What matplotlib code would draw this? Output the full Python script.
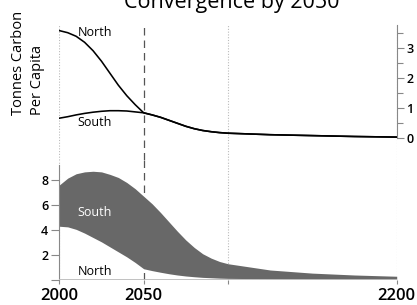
import matplotlib
matplotlib.use("Agg")
import matplotlib.pyplot as plt
import numpy as np

plt.rcParams["font.family"] = ["Open Sans", "DejaVu Sans"]

# ---------------------------------------------------------------------------
# Data
# ---------------------------------------------------------------------------
years = [2000, 2005, 2010, 2015, 2020, 2025, 2030, 2035, 2040, 2045, 2050,
         2055, 2060, 2065, 2070, 2075, 2080, 2085, 2090, 2095, 2100,
         2125, 2150, 2175, 2200]

# tonnes carbon per capita
north_per_capita = [3.57, 3.50, 3.38, 3.18, 2.90, 2.55, 2.15, 1.75, 1.40, 1.10, 0.83,
                    0.76, 0.68, 0.58, 0.48, 0.38, 0.30, 0.24, 0.20, 0.17, 0.15,
                    0.10, 0.07, 0.04, 0.02]
south_per_capita = [0.65, 0.70, 0.76, 0.81, 0.85, 0.88, 0.90, 0.90, 0.89, 0.86, 0.83,
                    0.76, 0.68, 0.58, 0.48, 0.38, 0.30, 0.24, 0.20, 0.17, 0.15,
                    0.10, 0.07, 0.04, 0.02]

# total emissions (GtC), stacked north then south
north_total = [4.30, 4.25, 4.05, 3.75, 3.40, 3.05, 2.65, 2.25, 1.85, 1.40, 0.90,
               0.75, 0.62, 0.50, 0.40, 0.32, 0.26, 0.21, 0.18, 0.15, 0.13,
               0.10, 0.08, 0.06, 0.05]
south_total = [3.30, 3.90, 4.45, 4.90, 5.30, 5.60, 5.80, 5.95, 5.95, 5.90, 5.80,
               5.35, 4.78, 4.15, 3.50, 2.88, 2.34, 1.89, 1.57, 1.33, 1.17,
               0.70, 0.47, 0.34, 0.25]

x_ticks = [2000, 2050, 2100, 2200]
x_labels = ["2000", "2050", "", "2200"]
dotted_years = [2000, 2100, 2200]
target_year = 2050

# ---------------------------------------------------------------------------
# Figure layout
# ---------------------------------------------------------------------------
W, H = 417, 305
fig = plt.figure(figsize=(W / 100, H / 100), dpi=100)

def px_axes(x0, x1, y0, y1):
    # pixel box (top-left origin) -> figure axes
    return fig.add_axes([x0 / W, 1 - y1 / H, (x1 - x0) / W, (y1 - y0) / H])

ax_top = px_axes(59.3, 396.7, 25, 160)
ax_bot = px_axes(59.3, 396.7, 160, 280)

grid_kw = dict(color="#bbbbbb", linestyle=(0, (1, 1.5)), linewidth=0.8, zorder=0)
dash_kw = dict(color="#555555", linestyle=(0, (6, 4)), linewidth=0.9, zorder=1)

for ax in (ax_top, ax_bot):
    ax.set_xlim(2000, 2200)
    for y in dotted_years:
        ax.axvline(y, **grid_kw)
    ax.axvline(target_year, **dash_kw)
    for s in ax.spines.values():
        s.set_visible(False)

# -- top: per capita --
ax_top.plot(years, north_per_capita, color="black", linewidth=1.15, zorder=3)
ax_top.plot(years, south_per_capita, color="black", linewidth=1.15, zorder=3)
ax_top.set_ylim(-(160 - 137.7) / 30, (137.7 - 25) / 30)
ax_top.set_xticks([])
ax_top.yaxis.tick_right()
ax_top.spines["right"].set_visible(True)
ax_top.spines["right"].set_color("#888888")
ax_top.spines["right"].set_bounds(0, 3.76)
ax_top.set_yticks([0, 1, 2, 3])
ax_top.set_yticks([0.5, 1.5, 2.5, 3.5], minor=True)
ax_top.tick_params(axis="y", which="major", length=5, width=0.8, color="#888888",
                   labelsize=9, pad=2)
ax_top.tick_params(axis="y", which="minor", length=4, width=0.8, color="#888888")
for lbl in ax_top.get_yticklabels():
    lbl.set_fontweight("semibold")
ax_top.text(2011, 3.49, "North", fontsize=9, va="center", ha="left")
ax_top.text(2011, 0.49, "South", fontsize=9, va="center", ha="left")

# -- bottom: totals, stacked --
north_arr = np.array(north_total)
south_top = north_arr + np.array(south_total)
ax_bot.fill_between(years, north_arr, south_top, color="#686868", linewidth=0, zorder=2)
ax_bot.set_ylim(0, 9.6)
ax_bot.spines["left"].set_visible(True)
ax_bot.spines["left"].set_color("#888888")
ax_bot.spines["left"].set_bounds(0, 9.2)
ax_bot.axhline(0, color="#bbbbbb", linewidth=2, zorder=4)
ax_bot.set_yticks([0, 2, 4, 6, 8])
ax_bot.set_yticklabels(["", "2", "4", "6", "8"])
ax_bot.tick_params(axis="y", length=6, width=0.8, color="#888888", labelsize=9, pad=2)
ax_bot.set_xticks(x_ticks)
ax_bot.set_xticklabels(x_labels)
ax_bot.tick_params(axis="x", length=3, width=0.8, color="#888888", labelsize=12, pad=3)
for lbl in ax_bot.get_yticklabels() + ax_bot.get_xticklabels():
    lbl.set_fontweight("semibold")
ax_bot.text(2011, 5.44, "South", fontsize=9, va="center", ha="left", color="white")
ax_bot.text(2011, 0.66, "North", fontsize=9, va="center", ha="left")

# titles / labels (title is cropped at the top edge, as in the reference)
fig.text(232 / W, 1 - 8 / H, "Convergence by 2050", ha="center", va="baseline",
         fontsize=15.5)
fig.text(28 / W, 1 - 115 / H, "Tonnes Carbon\nPer Capita", rotation=90,
         ha="center", va="bottom", multialignment="left", fontsize=10.5,
         linespacing=1.35)

fig.savefig("out.png", dpi=100)
